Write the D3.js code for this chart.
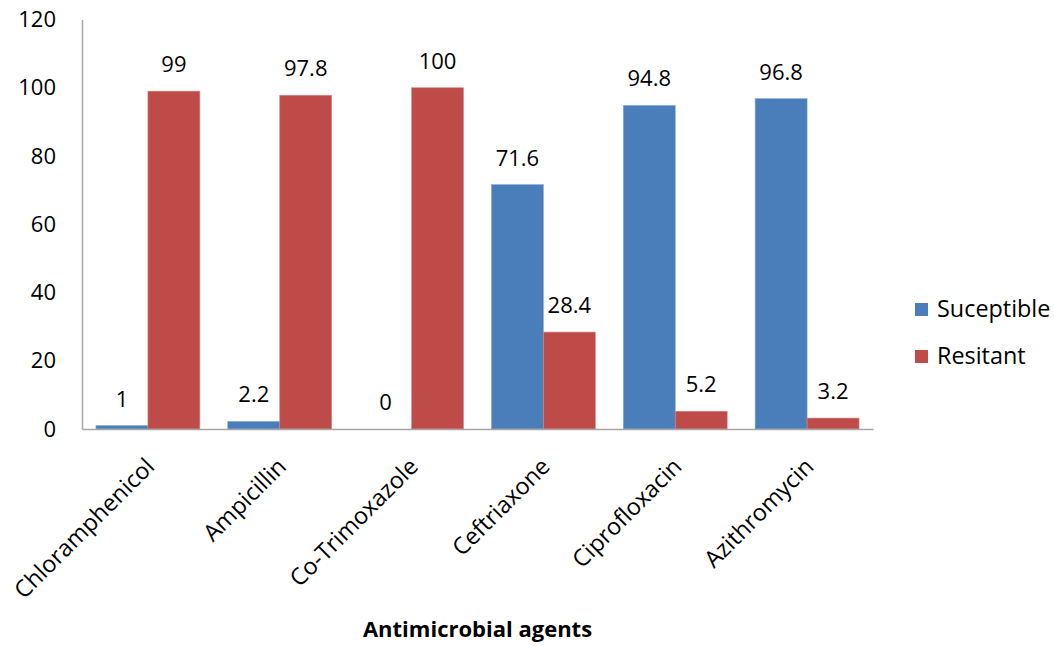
<!DOCTYPE html>
<html>
<head>
<meta charset="utf-8">
<script src="https://cdn.jsdelivr.net/npm/d3@7"></script>
<style>
  html, body { margin: 0; padding: 0; background: #fff; }
  svg text { font-family: "Open Sans", Lato, sans-serif; fill: #000; }
</style>
</head>
<body>
<svg id="chart" width="1054" height="646"></svg>
<script>
// Antimicrobial susceptibility (%)
const categories = ["Chloramphenicol", "Ampicillin", "Co-Trimoxazole", "Ceftriaxone", "Ciprofloxacin", "Azithromycin"];
const susceptible = [1, 2.2, 0, 71.6, 94.8, 96.8];
const resistant = [99, 97.8, 100, 28.4, 5.2, 3.2];
const seriesNames = ["Suceptible", "Resitant"];
const seriesColors = ["#4A7EBB", "#BE4B48"];
const seriesEdges = ["#7FA6D6", "#D68683"];
const yTicks = [0, 20, 40, 60, 80, 100, 120];
const xTitle = "Antimicrobial agents";

const NUM_FS = 22;   // numbers
const TXT_FS = 23.4; // words
const svg = d3.select("#chart");
const plot = { left: 82, right: 873, top: 19.5, bottom: 429 };

const x = d3.scaleBand().domain(categories).range([plot.left, plot.right]).padding(0);
const y = d3.scaleLinear().domain([0, 120]).range([plot.bottom, plot.top]);

const barW = x.bandwidth() * 0.394;
const groupOffset = (x.bandwidth() - 2 * barW) / 2;

const series = [susceptible, resistant];

// bars
series.forEach((vals, si) => {
  const g = svg.append("g");
  const rows = vals.map((v, i) => ({ v, c: categories[i] }));
  g.selectAll("rect")
    .data(rows)
    .join("rect")
    .attr("x", d => x(d.c) + groupOffset + si * barW)
    .attr("y", d => y(d.v))
    .attr("width", barW)
    .attr("height", d => y(0) - y(d.v))
    .attr("fill", seriesColors[si])
    .attr("stroke", seriesEdges[si])
    .attr("stroke-width", 0.6);

  // value labels
  g.selectAll("text")
    .data(rows)
    .join("text")
    .attr("x", d => x(d.c) + groupOffset + si * barW + barW / 2)
    .attr("y", d => y(d.v) - 19)
    .attr("text-anchor", "middle")
    .attr("font-size", NUM_FS)
    .text(d => d.v);
});

// y axis
const yAxis = d3.axisLeft(y).tickValues(yTicks).tickSize(0).tickPadding(26);
const yg = svg.append("g").attr("transform", `translate(${plot.left},0)`).call(yAxis);
yg.select(".domain").attr("stroke", "#A6A6A6").attr("stroke-width", 1.5);
yg.selectAll(".tick text").attr("font-size", NUM_FS).attr("font-family", "'Open Sans', sans-serif").attr("fill", "#000");

// x axis
const xAxis = d3.axisBottom(x).tickSize(0).tickFormat("");
const xg = svg.append("g").attr("transform", `translate(0,${plot.bottom})`).call(xAxis);
xg.select(".domain").attr("stroke", "#A6A6A6").attr("stroke-width", 1.5);

// rotated category labels
svg.append("g").selectAll("text")
  .data(categories)
  .join("text")
  .attr("transform", d => `translate(${x(d) + x.bandwidth() / 2 + 8},${plot.bottom + 39}) rotate(-45)`)
  .attr("text-anchor", "end")
  .attr("font-size", TXT_FS)
  .text(d => d);

// axis title
svg.append("text")
  .attr("x", (plot.left + plot.right) / 2)
  .attr("y", 637)
  .attr("text-anchor", "middle")
  .attr("font-size", 22)
  .attr("font-weight", "bold")
  .text(xTitle);

// legend
const legend = svg.append("g");
seriesNames.forEach((name, i) => {
  legend.append("rect")
    .attr("x", 915).attr("y", 303 + i * 47)
    .attr("width", 13).attr("height", 13)
    .attr("fill", seriesColors[i]);
  legend.append("text")
    .attr("x", 937).attr("y", 317 + i * 47)
    .attr("font-size", TXT_FS)
    .text(name);
});
</script>
</body>
</html>
